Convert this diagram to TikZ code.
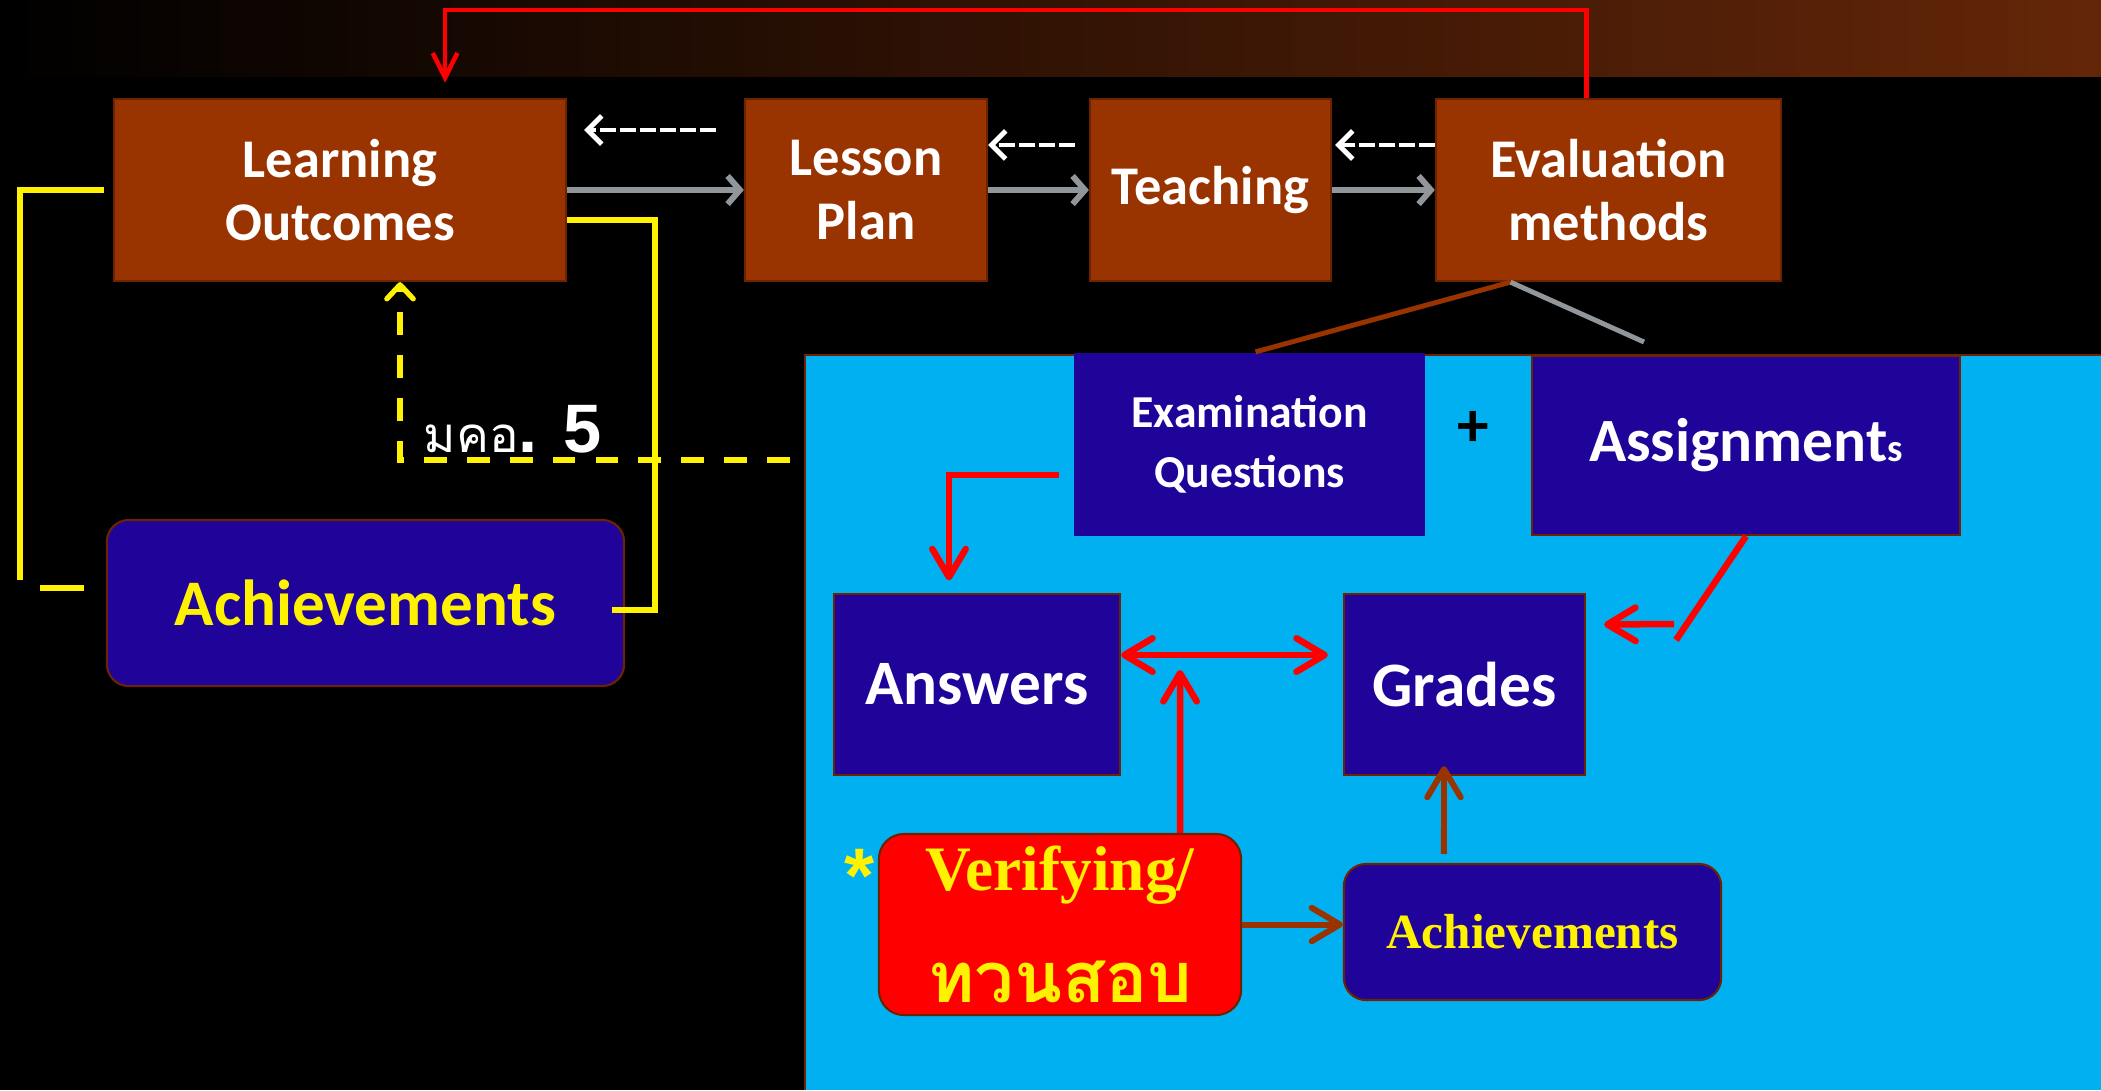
\documentclass[tikz,border=0pt]{standalone}
\usepackage{fontspec}
\setmainfont{Carlito}
\newfontfamily\thaifont[Script=Thai]{Loma}
\newfontfamily\timesfont{Liberation Serif}
\newfontfamily\arialfont{Liberation Sans}
\usetikzlibrary{arrows.meta}

\definecolor{boxbrown}{RGB}{153,51,0}
\definecolor{edgebrown}{RGB}{110,35,0}
\definecolor{bandbrown}{RGB}{100,38,8}
\definecolor{navy}{RGB}{32,3,152}
\definecolor{skyblue}{RGB}{0,176,240}
\definecolor{arrowgray}{RGB}{145,150,155}

\tikzset{
  brownbox/.style={draw=edgebrown, fill=boxbrown, text=white, line width=0.6pt,
    minimum height=1.82cm, align=center, font=\fontsize{15.5}{18}\selectfont\bfseries},
  navybox/.style={draw=edgebrown, fill=navy, text=white, line width=0.6pt,
    align=center, font=\bfseries},
  roundbox/.style={navybox, rounded corners=0.22cm},
  grayarrow/.style={arrowgray, line width=1.7pt, -{Straight Barb[length=3.5pt, width=8pt]}},
  whitedash/.style={white, line width=1.4pt, dash pattern=on 4.5pt off 1.2pt,
    -{Straight Barb[length=4pt, width=8pt]}},
  yline/.style={yellow, line width=1.6pt},
  ydash/.style={yellow, line width=1.5pt, dash pattern=on 6.5pt off 5.7pt,
    -{Straight Barb[length=4pt, width=7.5pt, round]}},
  redline/.style={red, line width=1.85pt},
  redarrow/.style={redline, -{Straight Barb[length=8pt, width=9.5pt, round]}},
  brownarrow/.style={boxbrown, line width=1.7pt, -{Straight Barb[length=8pt, width=9.5pt, round]}}
}

\begin{document}
\begin{tikzpicture}[x=0.01cm, y=-0.01cm]
\useasboundingbox (0,0) rectangle (2101,1090);
\fill[black] (0,0) rectangle (2101,1090);

% Top band
\shade[left color=black, right color=bandbrown] (0,0) rectangle (2101,76);

% Blue area
\fill[skyblue] (805,355) rectangle (2101,1090);
\draw[edgebrown, line width=0.7pt] (805,1090) -- (805,355) -- (2101,355);

% Top row
\node[brownbox, minimum width=4.52cm] (lo) at (340,190) {Learning\\Outcomes};
\node[brownbox, minimum width=2.42cm] (lp) at (866,190) {Lesson\\Plan};
\node[brownbox, minimum width=2.41cm] (teach) at (1210.5,190) {Teaching};
\node[brownbox, minimum width=3.45cm] (eval) at (1608.5,190) {Evaluation\\methods};

% Left achievements
\node[roundbox, text=yellow, minimum width=5.17cm, minimum height=1.66cm,
  font=\fontsize{18.5}{22}\selectfont\bfseries] (ach) at (365.5,603) {Achievements};

% Exam and assignments
\node[navybox, draw=none, minimum width=3.51cm, minimum height=1.83cm,
  font=\fontsize{13}{17}\selectfont\bfseries] (exam) at (1249.5,444.5) {Examination\\Questions};
\node[navybox, minimum width=4.28cm, minimum height=1.79cm,
  font=\fontsize{17.5}{20}\selectfont\bfseries] (assign) at (1746,445.5)
  {Assignment{\fontsize{11}{13}\selectfont s}};
\node[font=\fontsize{18}{20}\selectfont\bfseries] (plus) at (1473,429) {+};

% Answers and grades
\node[navybox, minimum width=2.86cm, minimum height=1.81cm,
  font=\fontsize{18}{21}\selectfont\bfseries] (ans) at (977,684.5) {Answers};
\node[navybox, minimum width=2.41cm, minimum height=1.81cm,
  font=\fontsize{18}{21}\selectfont\bfseries] (grades) at (1464.5,684.5) {Grades};

% Verifying
\node[roundbox, fill=red, text=yellow, minimum width=3.62cm, minimum height=1.81cm,
  rounded corners=0.25cm, font=\timesfont\bfseries\fontsize{18}{32}\selectfont]
  (verify) at (1060,924.5) {Verifying/\\{\thaifont\bfseries\fontsize{20}{32}\selectfont ทวนสอบ}};
\node[text=yellow, font=\arialfont\bfseries\fontsize{22}{24}\selectfont] (star) at (860,876) {*};

% Right achievements
\node[roundbox, text=yellow, minimum width=3.77cm, minimum height=1.36cm,
  font=\timesfont\bfseries\fontsize{14}{16}\selectfont] (ach2) at (1532.5,932) {Achievements};

% Label
\node[anchor=base west, inner sep=0, text=white] (mko) at (423,452)
  {{\thaifont\fontsize{14}{18}\selectfont มคอ}{\arialfont\bfseries\fontsize{19.5}{22}\selectfont. 5}};

% Forward arrows
\draw[grayarrow] (lo.east) -- (lp.west);
\draw[grayarrow] (lp.east) -- (teach.west);
\draw[grayarrow] (teach.east) -- (eval.west);

% Backward dashed arrows
\draw[whitedash] ([xshift=-2.8mm, yshift=6mm]lp.west) -- ([xshift=1.7mm, yshift=6mm]lo.east);
\draw[whitedash] ([xshift=-1.4mm, yshift=4.5mm]teach.west) -- ([yshift=4.5mm]lp.east);
\draw[whitedash] ([yshift=4.5mm]eval.west) -- ([xshift=0.3mm, yshift=4.5mm]teach.east);

% Feedback on top
\draw[red, line width=1.3pt, shorten >=4.3pt, -{Straight Barb[length=7pt, width=7pt]}]
  ([xshift=-2.2mm]eval.north) |- (1000,10) -| ([xshift=10.5mm]lo.north);

% Evaluation split
\coordinate (split) at (1644,342);
\draw[boxbrown, line width=1.4pt] ([xshift=-9.8mm]eval.south) -- ([xshift=0.6mm]exam.north);
\draw[arrowgray, line width=1.4pt] ([xshift=-9.8mm]eval.south) -- (split);

% Yellow loops
\draw[yline] ([xshift=-0.9mm]lo.west) -| (20,580);
\draw[yline] ([xshift=-2.2mm, yshift=1.5mm]ach.west) -- ++(-44,0);
\draw[yline] ([yshift=-3mm]lo.east) -- (655,220) |- ([xshift=-1.3mm, yshift=-0.7mm]ach.east);
\coordinate (mkoend) at (790,460);
\draw[ydash] (mkoend) -| ([xshift=6mm]lo.south);

% Inside the blue area
\draw[redarrow, shorten >=-1pt] ([xshift=-1.4mm, yshift=-3.05mm]exam.west) -| ([xshift=-2.8mm, yshift=1.6mm]ans.north);
\draw[redarrow, {Straight Barb[length=8pt, width=9.5pt, round]}-{Straight Barb[length=8pt, width=9.5pt, round]}]
  ([yshift=2.95mm]ans.east) -- ([xshift=-1.5mm, yshift=2.95mm]grades.west);
\coordinate (vtip) at (1180,670);
\draw[redarrow] ([xshift=12mm]verify.north) -- (vtip);
\coordinate (bend) at (1676,640);
\draw[redline] (assign.south) -- (bend);
\draw[redarrow] (1674,624) -- ([xshift=1.8mm, yshift=6mm]grades.east);
\draw[brownarrow] (verify.east) -- (verify.east -| ach2.west);
\draw[brownarrow] ([xshift=-8.85mm, yshift=0.9mm]ach2.north) -- ([xshift=-2.05mm, yshift=1mm]grades.south);

\end{tikzpicture}
\end{document}
